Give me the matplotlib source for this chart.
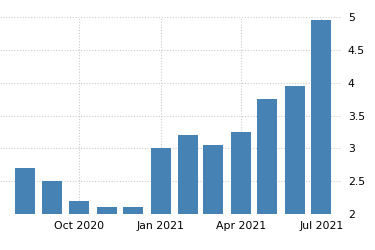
import numpy as np
import pandas as pd
import matplotlib
matplotlib.use('Agg')
import matplotlib.pyplot as plt
import matplotlib.dates as mdates

months = pd.date_range('2020-08-01', '2021-07-01', freq='MS')
values = [2.7, 2.5, 2.2, 2.1, 2.1, 3.0, 3.2, 3.05, 3.25, 3.75, 3.95, 4.95]
tick_dates = pd.to_datetime(['2020-10-01', '2021-01-01', '2021-04-01', '2021-07-01'])
tick_labels = ['Oct 2020', 'Jan 2021', 'Apr 2021', 'Jul 2021']
y_ticks = [2, 2.5, 3, 3.5, 4, 4.5, 5]
y_labels = ['2', '2.5', '3', '3.5', '4', '4.5', '5']

fig = plt.figure(figsize=(3.75, 2.5), dpi=100)
ax = fig.add_axes([0.0, 0.144, 0.909, 0.788])

bottom = 2
ax.bar(months, np.array(values) - bottom, bottom=bottom, width=22.5,
       color='#4682b4', zorder=3)

ax.set_xlim(pd.Timestamp('2020-07-04'), pd.Timestamp('2021-07-23'))
ax.set_ylim(2, 5)

ax.set_xticks(tick_dates)
ax.set_xticklabels(tick_labels)
ax.set_yticks(y_ticks)
ax.set_yticklabels(y_labels)
ax.yaxis.tick_right()

ax.grid(True, color='#cccccc', linestyle=(0, (1, 1.5)), linewidth=0.8, zorder=0)
for s in ax.spines.values():
    s.set_visible(False)
ax.tick_params(axis='both', length=0, labelsize=7.8, colors='black')
ax.tick_params(axis='x', pad=5)
ax.tick_params(axis='y', pad=5)

fig.savefig('out.png', dpi=100)
